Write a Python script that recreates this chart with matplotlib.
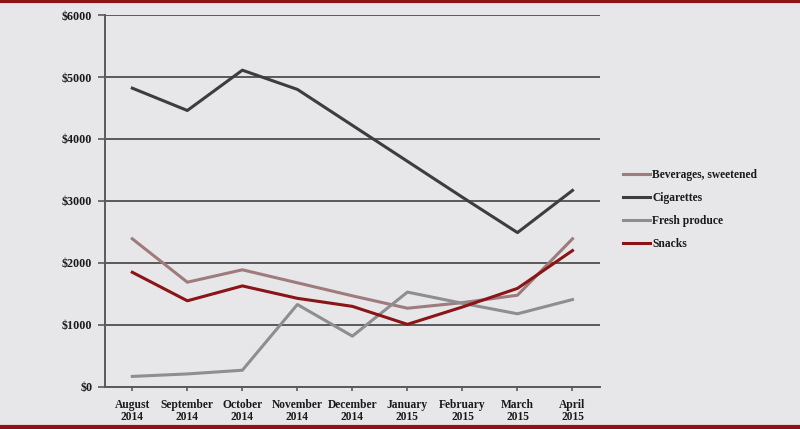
import numpy as np
import matplotlib.pyplot as plt
from matplotlib.lines import Line2D

months = ['August\n2014', 'September\n2014', 'October\n2014', 'November\n2014', 'December\n2014',
          'January\n2015', 'February\n2015', 'March\n2015', 'April\n2015']
beverages = [2390, 1690, 1890, 1680, 1470, 1270, 1360, 1480, 2390]
cigarettes = [4820, 4460, 5110, 4800, 4220, 3640, 3060, 2490, 3170]
fresh_produce = [170, 210, 270, 1330, 820, 1530, 1350, 1180, 1410]
snacks = [1850, 1390, 1630, 1430, 1300, 1010, 1290, 1590, 2200]

plt.rcParams['font.family'] = ['Liberation Serif', 'DejaVu Serif']
bg = '#e7e7e9'
dark_red = '#8b1416'
fs = 8.3

fig = plt.figure(figsize=(8, 4.29), dpi=100, facecolor=bg)
ax = fig.add_axes([0.131, 0.098, 0.619, 0.867], facecolor=bg)

x = np.arange(len(months))
ax.plot(x, beverages, color='#9e7b7c', lw=2.2, label='Beverages, sweetened')
ax.plot(x, cigarettes, color='#3d3d3f', lw=2.2, label='Cigarettes')
ax.plot(x, fresh_produce, color='#8e8e90', lw=2.2, label='Fresh produce')
ax.plot(x, snacks, color=dark_red, lw=2.2, label='Snacks')

ax.set_xlim(-0.5, 8.5)
ax.set_ylim(0, 6000)
ax.set_yticks(range(0, 6001, 1000))
ax.set_yticklabels(['$%d' % v for v in range(0, 6001, 1000)])
ax.set_xticks(x)
ax.set_xticklabels(months, linespacing=1.0)
ax.grid(axis='y', color='#5a5a5c', lw=1.4)
ax.set_axisbelow(True)
for s in ['top', 'right']:
    ax.spines[s].set_visible(False)
for s in ['left', 'bottom']:
    ax.spines[s].set_color('#5a5a5c')
    ax.spines[s].set_linewidth(1.4)
ax.tick_params(axis='x', colors='#5a5a5c', length=3, width=1.2, labelsize=fs,
               labelcolor='#1a1a1a', pad=6)
ax.tick_params(axis='y', colors='#5a5a5c', length=5, width=1.2, labelsize=fs + 0.4,
               labelcolor='#1a1a1a', pad=4)
for lab in ax.get_xticklabels() + ax.get_yticklabels():
    lab.set_fontweight('bold')

leg = ax.legend(loc='center left', bbox_to_anchor=(1.025, 0.476), frameon=False,
                fontsize=fs, handlelength=2.4, handletextpad=0.15, labelspacing=0.95)
for t in leg.get_texts():
    t.set_fontweight('bold')
    t.set_color('#1a1a1a')

# dark red rules at top and bottom
fig.add_artist(Line2D([0, 1], [0.997, 0.997], color=dark_red, lw=3, transform=fig.transFigure))
fig.add_artist(Line2D([0, 1], [0.004, 0.004], color=dark_red, lw=3, transform=fig.transFigure))

fig.savefig('out.png', dpi=100, facecolor=bg)
